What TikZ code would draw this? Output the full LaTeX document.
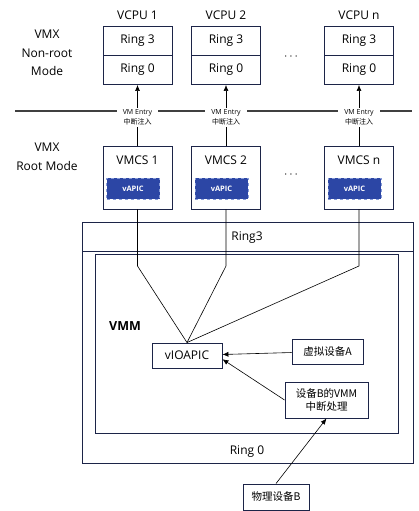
\documentclass[tikz,border=0pt]{standalone}
\usepackage{fontspec}
\setmainfont{Open Sans}
\newfontfamily\cjk{Noto Sans CJK SC}
\usetikzlibrary{arrows.meta}

\definecolor{frame}{RGB}{28,36,72}
\definecolor{apicblue}{RGB}{44,70,165}
\definecolor{apicdash}{RGB}{135,155,215}
\tikzset{
  box/.style={draw=frame, line width=0.9pt, minimum width=69pt, inner sep=0pt},
  ringbox/.style={box, minimum height=29pt},
  apic/.style={fill=apicblue, draw=apicdash, dashed, thick, minimum width=53pt,
    minimum height=21pt, inner sep=0pt, text=white,
    font=\fontsize{7.5}{9}\selectfont\bfseries},
  entry/.style={fill=white, inner xsep=6pt, inner ysep=1pt, align=center,
    font=\fontsize{7}{10.5}\selectfont},
  cnbox/.style={box, font=\cjk\fontsize{10.5}{13.5}\selectfont},
  conn/.style={draw=black, line width=0.6pt},
  tip/.style={draw=black, line width=0.6pt, -{Latex[length=6pt,width=5pt]}}
}

\begin{document}
\begin{tikzpicture}[x=1pt,y=-1pt, font=\fontsize{12}{18.5}\selectfont]
  \useasboundingbox (0,0) rectangle (419,511);
  %% mode labels
  \node[align=center] (nonroot) at (47,53) {VMX\\Non-root\\Mode};
  \node[align=center] (root) at (47,157) {VMX\\Root Mode};
  %% border between the two modes
  \draw[line width=1.6pt, black!75] (15,111) -- (412,111);
  %% one column per VCPU
  \foreach \i/\x in {1/137.5, 2/226, n/359} {
    \node (vcpu\i) at (\x,15) {VCPU \i};
    \node[ringbox] (rthree\i) at (\x,41) {Ring 3};
    \node[ringbox] (rzero\i) at (\x,70) {Ring 0};
    \node[box, minimum height=63pt] (vmcs\i) at (\x,177.5) {};
    \node (vmcslbl\i) at (\x,160) {VMCS \i};
    \node[apic] (vapic\i) at (\x-4.5,188.5) {vAPIC};
    \draw[tip] (vmcs\i) -- (rzero\i);
    \node[entry] (entry\i) at (\x,117.5) {VM Entry\\{\cjk 中断注入}};
  }
  \node (dotsa) at (291,57) {$\cdots$};
  \node (dotsb) at (291,175) {$\cdots$};
  %% Ring3 / Ring 0 of the host
  \draw[frame, line width=0.9pt] (82,222) rectangle (413,463);
  \draw[frame, line width=0.9pt] (82,251) -- (413,251);
  \draw[frame, line width=0.9pt] (95,254) rectangle (398,433);
  \node (ringthree) at (247,238) {Ring3};
  \node (ringzero) at (247,452) {Ring 0};
  \node[font=\fontsize{12.5}{14}\selectfont\bfseries] (vmm) at (125,326) {VMM};
  %% VMM parts
  \node[box, minimum width=70pt, minimum height=25pt] (vioapic) at (187,355.5) {vIOAPIC};
  \node[cnbox, minimum width=71pt, minimum height=25pt] (deva) at (327.5,351.5) {虚拟设备A};
  \node[cnbox, minimum width=83pt, minimum height=36pt, align=center] (devb) at (326.5,400) {设备B的VMM\\中断处理};
  \node[cnbox, minimum width=66pt, minimum height=26pt] (phyb) at (276,497) {物理设备B};
  \foreach \i in {1,2,n} {
    \coordinate (bend\i) at (vmcs\i.south |- 0,266);
    \draw[conn] (vmcs\i) -- (bend\i) -- (vioapic.north);
  }
  \draw[tip] (deva) -- (vioapic);
  \draw[tip] (devb.west) -- (vioapic.-6);
  \draw[tip] (phyb.north) -- (devb.south);
\end{tikzpicture}
\end{document}
